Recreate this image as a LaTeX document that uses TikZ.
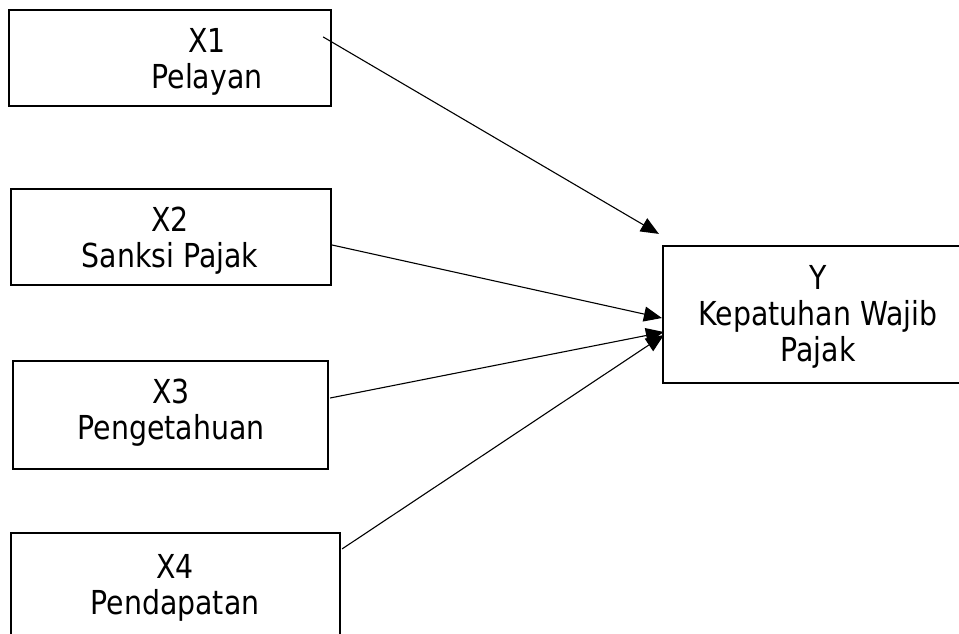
\documentclass[tikz,border=0pt]{standalone}
\usepackage{fontspec}
\setmainfont{DejaVu Sans}[FakeStretch=0.86]
\usetikzlibrary{arrows.meta,calc}

\tikzset{
	box/.style={draw, line width=2.2pt, inner sep=0pt},
	lbl/.style={align=center, inner sep=0pt, font=\fontsize{33}{36}\selectfont},
	link/.style={line width=1.1pt, -{Triangle[length=18pt,width=15pt]}}
}

\begin{document}
\begin{tikzpicture}[x=1pt, y=-1pt]

	\useasboundingbox (0,0) rectangle (959,633);

	% boxes
	\node[box, minimum width=322pt, minimum height=96pt]  (b1) at (170,58)    {};
	\node[box, minimum width=320pt, minimum height=96pt]  (b2) at (171,237)   {};
	\node[box, minimum width=315pt, minimum height=108pt] (b3) at (170.5,415) {};
	\node[box, minimum width=329pt, minimum height=167pt] (b4) at (175.5,616.5) {};
	\node[box, minimum width=312pt, minimum height=137pt] (by) at (819,314.5) {};

	% texts
	\node[lbl] (t1) at (207,62)  {X1\\Pelayan};
	\node[lbl] (t2) at (170,241) {X2\\Sanksi Pajak};
	\node[lbl] (t3) at (171,413) {X3\\Pengetahuan};
	\node[lbl] (t4) at (175,588) {X4\\Pendapatan};
	\node[lbl] (ty) at (818,317) {Y\\Kepatuhan Wajib\\Pajak};

	% arrows
	\draw[link] ($(b1.north east)+(-9,28)$) -- ($(by.north west)+(-3,-11)$);
	\draw[link] ($(b2.east)+(0,8)$)         -- ($(by.west)+(0,3.5)$);
	\draw[link] ($(b3.east)+(1,-17)$)       -- ($(by.west)+(2,17.5)$);
	\draw[link] ($(b4.north east)+(1,17)$)  -- ($(by.west)+(2,20.5)$);

\end{tikzpicture}
\end{document}
